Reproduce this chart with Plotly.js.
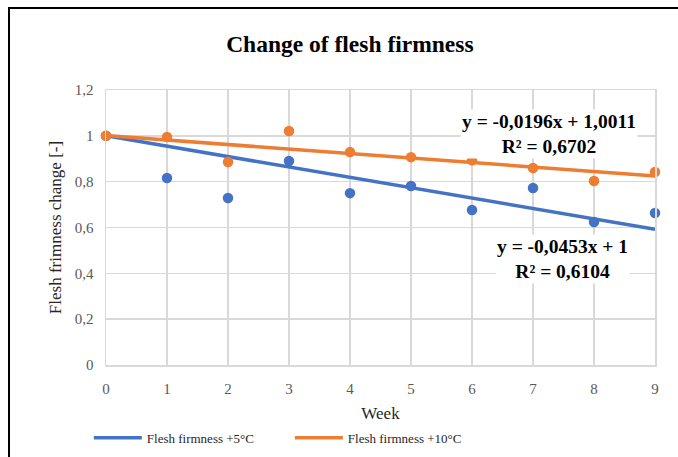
<!DOCTYPE html>
<html>
<head>
<meta charset="utf-8">
<script src="https://cdn.plot.ly/plotly-3.0.1.min.js"></script>
<style>
html,body{margin:0;padding:0;background:#fff;}
#wrap{position:relative;width:678px;height:457px;overflow:hidden;}
#chart{position:absolute;left:0;top:0;width:678px;height:457px;}
#frame{position:absolute;left:8px;top:7px;width:700px;height:500px;border-left:2px solid #000;border-top:2px solid #000;pointer-events:none;}
</style>
</head>
<body>
<div id="wrap"><div id="chart"></div><div id="frame"></div></div>
<script>
const weeks = [0,1,2,3,4,5,6,7,8,9];
const firm5 = [1.0,0.816,0.729,0.890,0.750,0.781,0.676,0.772,0.624,0.663];
const firm10 = [1.0,0.995,0.886,1.021,0.929,0.907,0.893,0.860,0.803,0.842];
const seriesNames = ["Flesh firmness +5°C","Flesh firmness +10°C"];
const trendSlope = [-0.0453,-0.0196];
const trendIntercept = [1.0,1.0011];
const eqText = ["y = -0,0453x + 1<br>R² = 0,6104","y = -0,0196x + 1,0011<br>R² = 0,6702"];
const colors = ["#4472C4","#ED7D31"];
const serif = "Liberation Serif, Times New Roman, serif";

const trendX = [weeks[0], weeks[weeks.length-1]];
function trendY(i){ return trendX.map(x => trendSlope[i]*x + trendIntercept[i]); }

const traces = [
  {x: trendX, y: trendY(0), mode:'lines', name: seriesNames[0], line:{color:colors[0], width:3.5}, showlegend:true, hoverinfo:'skip'},
  {x: trendX, y: trendY(1), mode:'lines', name: seriesNames[1], line:{color:colors[1], width:3.5}, showlegend:true, hoverinfo:'skip'},
  {x: weeks, y: firm5, mode:'markers', name: seriesNames[0], marker:{color:colors[0], size:10.5}, showlegend:false, cliponaxis:false},
  {x: weeks, y: firm10, mode:'markers', name: seriesNames[1], marker:{color:colors[1], size:10.5}, showlegend:false, cliponaxis:false}
];

const layout = {
  width:678, height:457,
  margin:{l:106, r:23, t:90, b:92},
  paper_bgcolor:'#fff', plot_bgcolor:'#fff',
  separators:', ',
  font:{family:serif, color:'#595959', size:15},
  title:{text:'<b>Change of flesh firmness</b>', font:{family:serif, size:23.5, color:'#000'}, x:0.516, xref:'container', y:0.905, yref:'container', xanchor:'center', yanchor:'middle'},
  xaxis:{range:[0,9], dtick:1, tick0:0, showgrid:true, gridcolor:'#d9d9d9', gridwidth:1.5, zeroline:false, showline:true, linecolor:'#d9d9d9', linewidth:1.5, mirror:true, ticks:'outside', ticklen:9, tickcolor:'rgba(0,0,0,0)',
    tickfont:{family:serif, size:15, color:'#595959'},
    title:{text:'Week', font:{family:serif, size:17, color:'#262626'}, standoff:13}},
  yaxis:{range:[0,1.2], dtick:0.2, tick0:0, showgrid:true, gridcolor:'#d9d9d9', gridwidth:1.5, zeroline:false, showline:true, linecolor:'#d9d9d9', linewidth:1.5, mirror:true, ticks:'outside', ticklen:8, tickcolor:'rgba(0,0,0,0)',
    tickfont:{family:serif, size:15, color:'#595959'},
    title:{text:'Flesh frimness change [-]', font:{family:serif, size:17, color:'#262626'}, standoff:9}},
  legend:{orientation:'h', xref:'container', yref:'container', x:0.131, xanchor:'left', y:0.042, yanchor:'middle', font:{family:serif, size:13, color:'#262626'}, entrywidth:138, entrywidthmode:'pixels', itemwidth:48, bgcolor:'rgba(0,0,0,0)'},
  annotations:[
    {x:7.26, y:1.008, xref:'x', yref:'y', text:'<b>'+eqText[1]+'</b>', showarrow:false, font:{family:serif, size:19.5, color:'#000'}, bgcolor:'#fff', align:'center'},
    {x:7.48, y:0.462, xref:'x', yref:'y', text:'<b>'+eqText[0]+'</b>', showarrow:false, font:{family:serif, size:19.5, color:'#000'}, bgcolor:'#fff', align:'center'}
  ]
};

Plotly.newPlot('chart', traces, layout, {displayModeBar:false, staticPlot:true});
</script>
</body>
</html>
